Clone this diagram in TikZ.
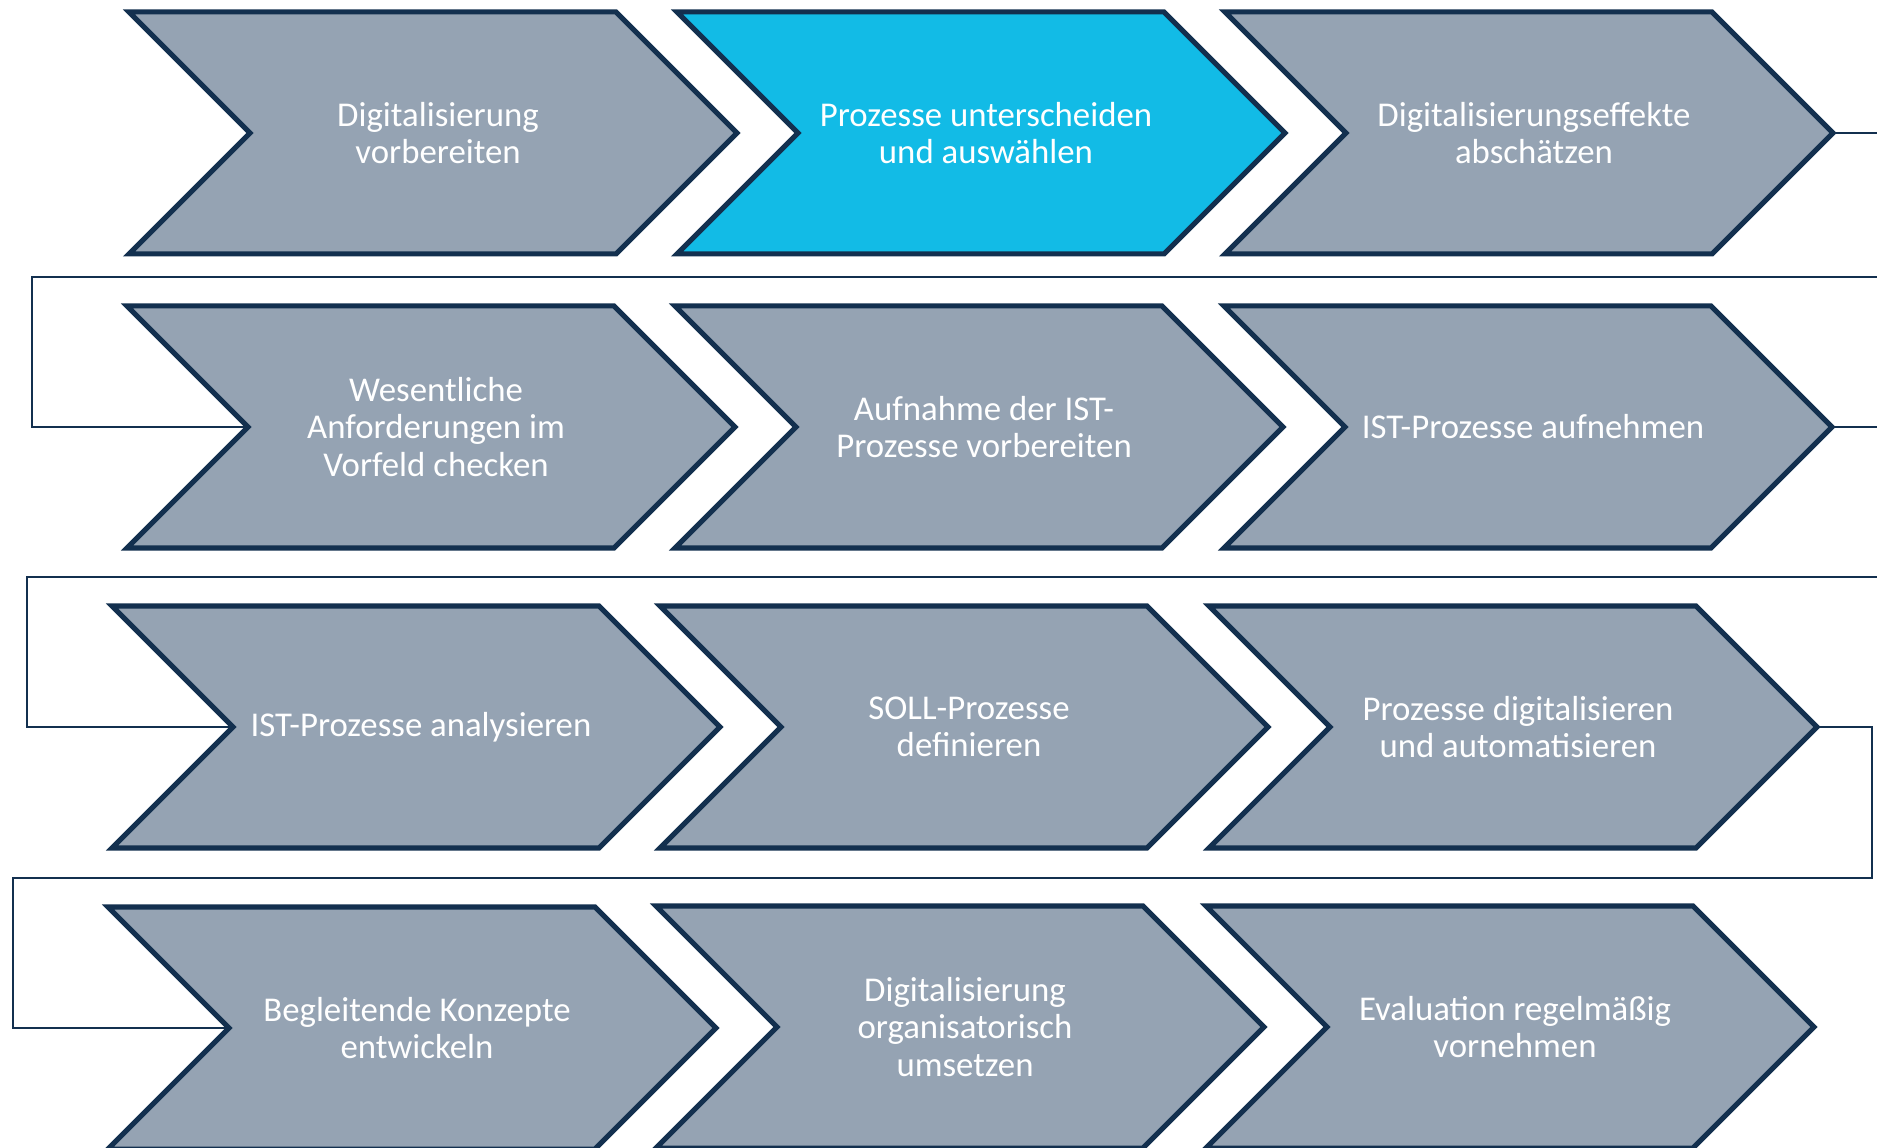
\documentclass[tikz,border=0pt]{standalone}
\usepackage{fontspec}
\setmainfont{Carlito}
\definecolor{navy}{HTML}{13304F}
\definecolor{steelgray}{HTML}{95A3B3}
\definecolor{activecyan}{HTML}{12BBE6}
\tikzset{
        % Chevron outlines
        chev_plain/.style={draw=navy, line width=2.85pt, fill=steelgray},
        chev_active/.style={chev_plain, fill=activecyan},
        % Labels inside the chevrons
        chev_text/.style={align=center, inner sep=0pt, text=white, font=\fontsize{19.8}{21.2}\selectfont},
        % Lines from one row to the next
        link_line/.style={draw=navy, line width=1.3pt}
}
% name, left x, top y, style, text
\newcommand{\chev}[5]{%
    \draw[#4] (#2,#3) -- ++(487,0) -- ++(121,121) -- ++(-121,121) -- ++(-487,0) -- ++(121,-121) -- cycle;
    \coordinate (#1-tip) at (#2+608,#3+121);
    \coordinate (#1-notch) at (#2+121,#3+121);
    \node[chev_text] (#1) at (#2+309,#3+121) {#5};
}
\begin{document}
\begin{tikzpicture}[x=0.02cm, y=-0.02cm]
    \clip (0,0) rectangle (1877,1148);
    % Row 1
    \chev{r1c1}{129}{12}{chev_plain}{Digitalisierung\\vorbereiten}
    \chev{r1c2}{677}{12}{chev_active}{Prozesse unterscheiden\\und auswählen}
    \chev{r1c3}{1225}{12}{chev_plain}{Digitalisierungseffekte\\abschätzen}
    % Row 2
    \chev{r2c1}{127}{306}{chev_plain}{Wesentliche\\Anforderungen im\\Vorfeld checken}
    \chev{r2c2}{675}{306}{chev_plain}{Aufnahme der IST-\\Prozesse vorbereiten}
    \chev{r2c3}{1224}{306}{chev_plain}{IST-Prozesse aufnehmen}
    % Row 3
    \chev{r3c1}{112}{606}{chev_plain}{IST-Prozesse analysieren}
    \chev{r3c2}{660}{606}{chev_plain}{SOLL-Prozesse\\definieren}
    \chev{r3c3}{1209}{606}{chev_plain}{Prozesse digitalisieren\\und automatisieren}
    % Row 4
    \chev{r4c1}{108}{907}{chev_plain}{Begleitende Konzepte\\entwickeln}
    \chev{r4c2}{656}{906}{chev_plain}{Digitalisierung\\organisatorisch\\umsetzen}
    \chev{r4c3}{1206}{906}{chev_plain}{Evaluation regelmäßig\\vornehmen}
    % Row changes
    \draw[link_line] (r1c3-tip) -- (1900,133) |- (32,277) |- (r2c1-notch);
    \draw[link_line] (r2c3-tip) -- (1900,427) |- (27,577) |- (r3c1-notch);
    \draw[link_line] (r3c3-tip) -- (1872,727) |- (13,878) |- (r4c1-notch);
\end{tikzpicture}
\end{document}
